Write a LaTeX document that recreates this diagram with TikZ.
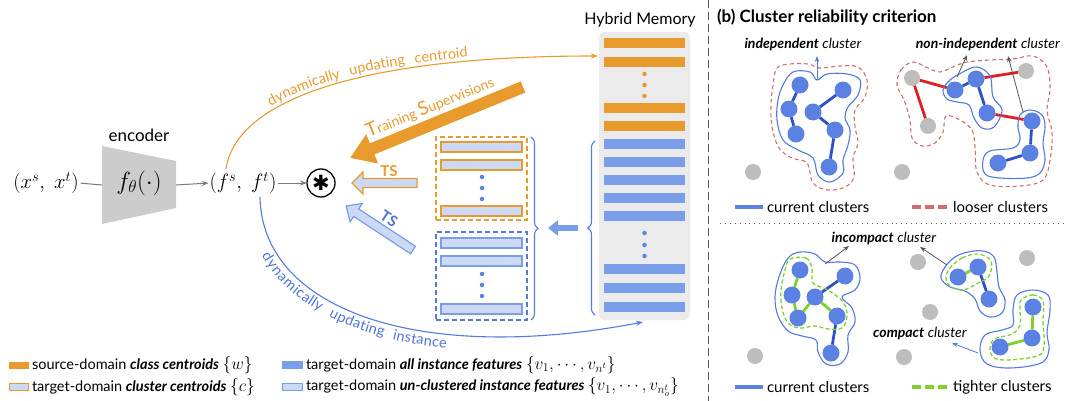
\documentclass[tikz,border=0pt]{standalone}
\usepackage{fontspec}
\setmainfont{Lato}
\newfontfamily\symfont{DejaVu Sans}
\usetikzlibrary{arrows.meta,decorations.text,decorations.pathreplacing,backgrounds,calc}

\definecolor{orng}{HTML}{E99A2C}
\definecolor{barblue}{HTML}{7A9DE8}
\definecolor{lightblue}{HTML}{CCD9F5}
\definecolor{nodeblue}{HTML}{5B82E2}
\definecolor{edgeblue}{HTML}{3050C8}
\definecolor{graynode}{HTML}{BDBDBD}
\definecolor{membg}{HTML}{EBEBEB}
\definecolor{encgray}{HTML}{CCCCCC}
\definecolor{redline}{HTML}{E02020}
\definecolor{loose}{HTML}{CF6E6E}
\definecolor{tight}{HTML}{7ED02A}
\definecolor{linegray}{HTML}{7A7A7A}
\definecolor{contour}{HTML}{5479E0}
\definecolor{tsblue}{HTML}{4F74D8}
\definecolor{ptrgray}{HTML}{555555}

\tikzset{
  every node/.style={inner sep=0pt, outer sep=0pt},
  flow/.style={draw=linegray, line width=1pt},
  flowarrow/.style={flow, -{Stealth[length=7pt,width=5pt]}},
  membar/.style={minimum width=81pt, minimum height=10pt},
  clbar/.style={minimum width=81pt, minimum height=10pt, fill=lightblue, line width=1.2pt},
  memdot/.style={circle, minimum size=4.5pt},
  bnode/.style={circle, fill=nodeblue, minimum size=17pt},
  gnode/.style={circle, fill=graynode, minimum size=16pt},
  bedge/.style={draw=edgeblue, line width=2.8pt},
  redge/.style={draw=redline, line width=2.8pt},
  gedge/.style={draw=tight, line width=2.8pt},
  hull/.style={draw=contour, line width=1.1pt},
  loosehull/.style={draw=loose, line width=1.1pt, dash pattern=on 4pt off 3pt},
  tighthull/.style={draw=tight, line width=1.3pt, dash pattern=on 4pt off 2.5pt},
  pointer/.style={draw=ptrgray, line width=0.8pt, -{Stealth[length=6pt,width=4.5pt]}},
  lbl/.style={font=\fontsize{14}{14}\selectfont},
  legtext/.style={anchor=west, font=\fontsize{14.5}{14.5}\selectfont},
}
\newcommand{\legmath}[1]{{\fontsize{17.5}{17.5}\selectfont$#1$}}

\begin{document}
\begin{tikzpicture}[x=1pt,y=-1pt]
\useasboundingbox (0,0) rectangle (1067,401);

% ---------- encoder chain ----------
\node[font=\fontsize{21}{21}\selectfont] (x) at (46,183) {$(x^s,\;x^t)$};
\node[minimum width=74pt, minimum height=78pt] (enc) at (139,185) {};
\fill[encgray] (enc.north west) -- ($(enc.north east)+(0,15)$) -- ($(enc.south east)+(0,-16)$) -- (enc.south west) -- cycle;
\node[font=\fontsize{23}{23}\selectfont] (fth) at (139,183) {$f_\theta(\cdot)$};
\node[font=\fontsize{17}{17}\selectfont] (enclabel) at (139,135) {encoder};
\node[font=\fontsize{21}{21}\selectfont] (f) at (243,183) {$(f^s,\;f^t)$};
\node[circle, draw, line width=1.3pt, minimum size=28pt] (star) at (321,183) {\symfont\fontsize{21}{21}\selectfont ✱};

\draw[flow, shorten <=2pt] (x.east) -- (enc.west);
\draw[flowarrow, shorten >=1pt] (enc.east) -- (f.west);
\draw[flowarrow, shorten <=2pt] (f.east) -- (star.west);

% ---------- hybrid memory ----------
\node[fill=membg, rounded corners=5pt, minimum width=91pt, minimum height=288pt] (mem) at (644.5,176) {};
\node[font=\fontsize{16}{16}\selectfont] (memtitle) at (640,20) {Hybrid Memory};
\foreach \y/\n in {43/mo1, 62/mo2, 108/mo3, 126/mo4}
  \node[membar, fill=orng] (\n) at (644.5,\y) {};
\foreach \y in {74,85,96}
  \node[memdot, fill=orng] at (644.5,\y) {};
\foreach \y/\n in {144/mb1, 162/mb2, 180/mb3, 198/mb4, 216/mb5, 269/mb6, 288/mb7, 307/mb8}
  \node[membar, fill=barblue] (\n) at (644.5,\y) {};
\foreach \y in {233,245,256}
  \node[memdot, fill=nodeblue] at (644.5,\y) {};

% ---------- cluster centroids / un-clustered instances ----------
\node[draw=orng, line width=1.2pt, dash pattern=on 5pt off 3pt, minimum width=91pt, minimum height=83pt] (cbox) at (481.5,178.5) {};
\node[draw=contour, line width=1.2pt, dash pattern=on 5pt off 3pt, minimum width=91pt, minimum height=88pt] (ubox) at (481.5,276) {};
\foreach \y/\n in {147/cb1, 165/cb2, 211/cb3}
  \node[clbar, draw=orng] (\n) at (481.5,\y) {};
\foreach \y/\n in {243/ub1, 261/ub2, 309/ub3}
  \node[clbar, draw=barblue] (\n) at (481.5,\y) {};
\foreach \y in {177,188,199,274,285,296}
  \node[memdot, fill=nodeblue] at (482,\y) {};

% braces and the selection arrow
\draw[contour, line width=1.1pt, decorate, decoration={brace, amplitude=7pt}]
  ($(cbox.north east)+(4,0)$) -- ($(ubox.south east)+(4,0)$);
\draw[contour, line width=1.1pt, decorate, decoration={brace, amplitude=7pt}]
  ($(mem.south west)+(-4,-5)$) -- ($(mem.north west)+(-4,109)$);
\coordinate (braceR) at (538,228);
\coordinate (braceL) at (588,228);
\draw[barblue, line width=6pt, shorten <=10pt, shorten >=10pt, -{Triangle[length=10pt,width=15pt]}] (braceL) -- (braceR);

% ---------- training supervision arrows ----------
\coordinate (tsA) at (523,87);
\coordinate (tsB) at (350,158);
\draw[orng, line width=12pt, -{Triangle[length=24pt,width=30pt]}] (tsA) -- (tsB);
\node[rotate=22.3, anchor=base, text=orng, font=\fontsize{14}{14}\selectfont] (tslabel) at (432,112)
  {{\fontsize{19}{19}\selectfont T}raining {\fontsize{19}{19}\selectfont S}upervisions};

\begin{scope}[shift={(417,183)}]
  \filldraw[fill=lightblue, draw=orng, line width=1.2pt]
    (0,-4.5) -- (-54,-4.5) -- (-54,-11) -- (-65,0) -- (-54,11) -- (-54,4.5) -- (0,4.5) -- cycle;
\end{scope}
\node[text=orng, font=\bfseries\fontsize{15}{15}\selectfont] (ts1) at (389,171) {TS};

\begin{scope}[shift={(413,250)}, rotate=-33.3]
  \filldraw[fill=lightblue, draw=barblue, line width=1.2pt]
    (0,-4.5) -- (-68,-4.5) -- (-68,-11) -- (-80,0) -- (-68,11) -- (-68,4.5) -- (0,4.5) -- cycle;
\end{scope}
\node[rotate=-33.3, text=tsblue, font=\bfseries\fontsize{15}{15}\selectfont] (ts2) at (389,219) {TS};

% ---------- memory update arcs ----------
\coordinate (fsTop) at (226,169);
\coordinate (memIn) at (598,56);
\draw[orng, line width=1.1pt, -{Stealth[length=7pt,width=5pt]}] (fsTop) .. controls (236,100) and (360,56) .. (memIn);
\path[decorate, decoration={text along path, raise=4pt, text align={left indent=78pt}, text color=orng,
  text={|\fontsize{14.5}{14.5}\selectfont|dynamically {\kern6pt}updating {\kern6pt}centroid}}]
  (fsTop) .. controls (236,100) and (360,56) .. (memIn);

\coordinate (ftBot) at (260,197);
\coordinate (memOut) at (643,322);
\draw[contour, line width=1.1pt, -{Stealth[length=7pt,width=5pt]}] (ftBot) .. controls (262,310) and (420,365) .. (memOut);
\path[decorate, decoration={text along path, raise=-14pt, text align={left indent=54pt}, text color=tsblue,
  text={|\fontsize{14.5}{14.5}\selectfont|dynamically {\kern5pt}updating {\kern5pt}instance}}]
  (ftBot) .. controls (262,310) and (420,365) .. (memOut);

% ---------- legend (left) ----------
\node[fill=orng, minimum width=20pt, minimum height=7pt] (lg1) at (19,365) {};
\node[legtext] at (32,365) {source-domain \textbf{\textit{class centroids}}~\legmath{\{w\}}};
\node[fill=lightblue, draw=orng, line width=1.2pt, minimum width=19pt, minimum height=7pt] (lg2) at (19,387) {};
\node[legtext] at (32,387) {target-domain \textbf{\textit{cluster centroids}}~\legmath{\{c\}}};
\node[fill=barblue, minimum width=21pt, minimum height=8pt] (lg3) at (292.5,365) {};
\node[legtext] at (306,365) {target-domain \textbf{\textit{all instance features}}~\legmath{\{v_1, \cdots, v_{n^t}\}}};
\node[fill=lightblue, draw=barblue, line width=1.2pt, minimum width=20pt, minimum height=7pt] (lg4) at (292.5,387) {};
\node[legtext] at (306,387) {target-domain \textbf{\textit{un-clustered instance features}}~\legmath{\{v_1, \cdots, v_{n_o^t}\}}};

% ---------- separator ----------
\draw[ptrgray, line width=1pt, dash pattern=on 8pt off 4pt] (708,0) -- (708,401);

% ---------- (b) cluster reliability criterion ----------
\node[anchor=west, font=\bfseries\fontsize{17}{17}\selectfont] (title) at (717,17) {(b) Cluster reliability criterion};

% independent cluster
\node[lbl] (indep) at (803,44) {\textbf{\textit{independent}} \textit{cluster}};
\draw[loosehull] plot[smooth cycle, tension=0.6] coordinates {(777,68) (790,64) (808,64) (820,68) (840,66) (858,67) (867,80) (865,97) (855,110) (855,127) (858,143) (853,158) (854,177) (845,187) (828,190) (813,183) (807,163) (792,158) (779,148) (772,127) (771,105) (773,85)};
\draw[hull] plot[smooth cycle, tension=0.6] coordinates {(793,72) (810,72) (817,80) (827,74) (847,74) (860,80) (858,95) (848,107) (845,118) (850,130) (848,145) (843,160) (843,173) (830,182) (818,175) (813,158) (798,150) (783,140) (777,120) (778,100) (783,85)};
\node[bnode] (a1) at (800,85) {};
\node[bnode] (a2) at (843,90) {};
\node[bnode] (a3) at (789,109) {};
\node[bnode] (a4) at (813,112) {};
\node[bnode] (a5) at (796,134) {};
\node[bnode] (a6) at (835,130) {};
\node[bnode] (a7) at (829,167) {};
\node[gnode] (ag) at (753,172) {};
\begin{scope}[on background layer]
  \draw[bedge] (a1) -- (a3) -- (a5);
  \draw[bedge] (a2) -- (a4) -- (a6) -- (a7);
\end{scope}
\coordinate (indepFrom) at (817,80);
\coordinate (indepTo) at (817,56);
\draw[pointer, draw=contour] (indepFrom) -- (indepTo);

% non-independent cluster
\node[lbl] (nonindep) at (988,44) {\textbf{\textit{non-independent}} \textit{cluster}};
\draw[loosehull] plot[smooth cycle, tension=0.6] coordinates {(897,85) (901,70) (913,62) (928,68) (940,72) (955,66) (967,62) (990,60) (1013,59) (1033,56) (1047,67) (1050,90) (1047,110) (1052,133) (1050,160) (1043,180) (1020,186) (990,185) (977,172) (975,147) (972,130) (960,120) (946,116) (943,132) (935,143) (922,146) (912,138) (910,120) (904,100)};
\draw[hull] plot[smooth cycle, tension=0.6] coordinates {(943,90) (950,80) (963,72) (977,67) (990,76) (993,97) (1002,110) (994,127) (982,128) (974,118) (969,105) (957,102) (947,99)};
\draw[hull] plot[smooth cycle, tension=0.6] coordinates {(1020,115) (1030,110) (1042,115) (1045,127) (1043,143) (1045,160) (1040,173) (1027,178) (1000,178) (985,174) (983,160) (990,151) (1013,148) (1020,140) (1018,127)};
\node[gnode] (g1) at (912,78) {};
\node[gnode] (g2) at (1026,71) {};
\node[gnode] (g3) at (928,126) {};
\node[gnode] (g4) at (902,172) {};
\node[bnode] (b1) at (955,90) {};
\node[bnode] (b2) at (976,79) {};
\node[bnode] (b3) at (987,113) {};
\node[bnode] (b4) at (1032,121) {};
\node[bnode] (b5) at (1030,153) {};
\node[bnode] (b6) at (998,163) {};
\begin{scope}[on background layer]
  \draw[bedge] (b1) -- (b2) -- (b3);
  \draw[bedge] (b4) -- (b5) -- (b6);
  \draw[redge] (g3) -- (g1) -- (b1);
  \draw[redge] (b2) -- (g2);
  \draw[redge] (b3) -- (b4);
\end{scope}
\coordinate (niFromA) at (957,77);
\coordinate (niToA) at (967,55);
\coordinate (niFromB) at (1023,112);
\coordinate (niToB) at (1008,56);
\draw[pointer] (niFromA) -- (niToA);
\draw[pointer] (niFromB) -- (niToB);

% legend (top)
\coordinate (lc1a) at (735,207); \coordinate (lc1b) at (763,207);
\draw[nodeblue, line width=4.5pt] (lc1a) -- (lc1b);
\node[anchor=west, font=\fontsize{15}{15}\selectfont] (lc1t) at (767,207) {current clusters};
\coordinate (ll1a) at (912,207); \coordinate (ll1b) at (950,207);
\draw[loose, line width=4.5pt, dash pattern=on 9pt off 4pt] (ll1a) -- (ll1b);
\node[anchor=west, font=\fontsize{15}{15}\selectfont] (ll1t) at (953,207) {looser clusters};

% divider
\draw[ptrgray, line width=0.9pt, dash pattern=on 0.9pt off 4pt] (720,223) -- (1067,223);

% incompact cluster
\node[lbl] (incomp) at (884,238) {\textbf{\textit{incompact}} \textit{cluster}};
\draw[hull] plot[smooth cycle, tension=0.6] coordinates {(788,258) (800,252) (815,254) (825,262) (840,262) (855,265) (860,278) (855,290) (842,297) (852,308) (855,322) (848,335) (848,352) (840,364) (826,364) (818,352) (816,340) (802,336) (788,331) (778,316) (775,297) (779,277)};
\draw[tighthull] plot[smooth cycle, tension=0.6] coordinates {(790,259) (806,258) (812,268) (813,283) (828,290) (843,302) (847,316) (842,328) (828,329) (815,326) (800,328) (788,323) (782,308) (781,290) (785,270)};
\node[bnode] (c1) at (800,270) {};
\node[bnode] (c2) at (845,276) {};
\node[bnode] (c3) at (792,295) {};
\node[bnode] (c4) at (815,297) {};
\node[bnode] (c5) at (798,318) {};
\node[bnode] (c6) at (837,316) {};
\node[bnode] (c7) at (831,353) {};
\node[gnode] (h1) at (755,356) {};
\node[gnode] (h2) at (904,357) {};
\node[gnode] (h3) at (918,262) {};
\node[gnode] (h4) at (1027,258) {};
\node[gnode] (h5) at (930,312) {};
\begin{scope}[on background layer]
  \draw[gedge] (c1) -- (c3) -- (c5) -- (c4) -- (c6);
  \draw[bedge] (c4) -- (c2);
  \draw[bedge] (c6) -- (c7);
\end{scope}
\coordinate (icFromA) at (825,264);
\coordinate (icToA) at (849,246);
\draw[pointer] (icFromA) -- (icToA);

% compact clusters
\node[bnode] (d1) at (958,277) {};
\node[bnode] (d2) at (978,267) {};
\node[bnode] (d3) at (989,299) {};
\node[bnode] (d4) at (1033,307) {};
\node[bnode] (d5) at (1032,338) {};
\node[bnode] (d6) at (1000,347) {};
\draw[hull] plot[smooth cycle, tension=0.6] coordinates {(945,267) (955,257) (968,252) (983,251) (994,257) (997,272) (999,287) (1005,300) (1002,313) (990,317) (980,311) (975,299) (965,291) (950,287) (941,278)};
\draw[tighthull] plot[smooth cycle, tension=0.6] coordinates {(950,268) (962,258) (978,254) (991,261) (989,276) (978,283) (963,290) (950,286) (946,277)};
\draw[hull] plot[smooth cycle, tension=0.6] coordinates {(1017,295) (1033,290) (1048,295) (1050,310) (1047,333) (1049,350) (1041,363) (1010,368) (987,364) (980,350) (985,335) (1002,330) (1013,325) (1013,310)};
\draw[tighthull] plot[smooth cycle, tension=0.6] coordinates {(1021,300) (1033,295) (1043,301) (1043,322) (1044,346) (1037,356) (1003,360) (991,354) (993,340) (1012,334) (1020,325) (1020,310)};
\begin{scope}[on background layer]
  \draw[gedge] (d1) -- (d2);
  \draw[bedge] (d2) -- (d3);
  \draw[gedge] (d4) -- (d5) -- (d6);
\end{scope}
\coordinate (icFromB) at (947,265);
\coordinate (icToB) at (920,247);
\draw[pointer] (icFromB) -- (icToB);
\node[lbl] (comp) at (920,334) {\textbf{\textit{compact}} \textit{cluster}};
\coordinate (cFrom) at (978,353);
\coordinate (cTo) at (952,343);
\draw[pointer, draw=contour] (cFrom) -- (cTo);

% legend (bottom)
\coordinate (lc2a) at (735,387); \coordinate (lc2b) at (763,387);
\draw[nodeblue, line width=4.5pt] (lc2a) -- (lc2b);
\node[anchor=west, font=\fontsize{15}{15}\selectfont] (lc2t) at (767,387) {current clusters};
\coordinate (lt2a) at (912,387); \coordinate (lt2b) at (950,387);
\draw[tight, line width=4.5pt, dash pattern=on 9pt off 4pt] (lt2a) -- (lt2b);
\node[anchor=west, font=\fontsize{15}{15}\selectfont] (lt2t) at (953,387) {tighter clusters};
\end{tikzpicture}
\end{document}
